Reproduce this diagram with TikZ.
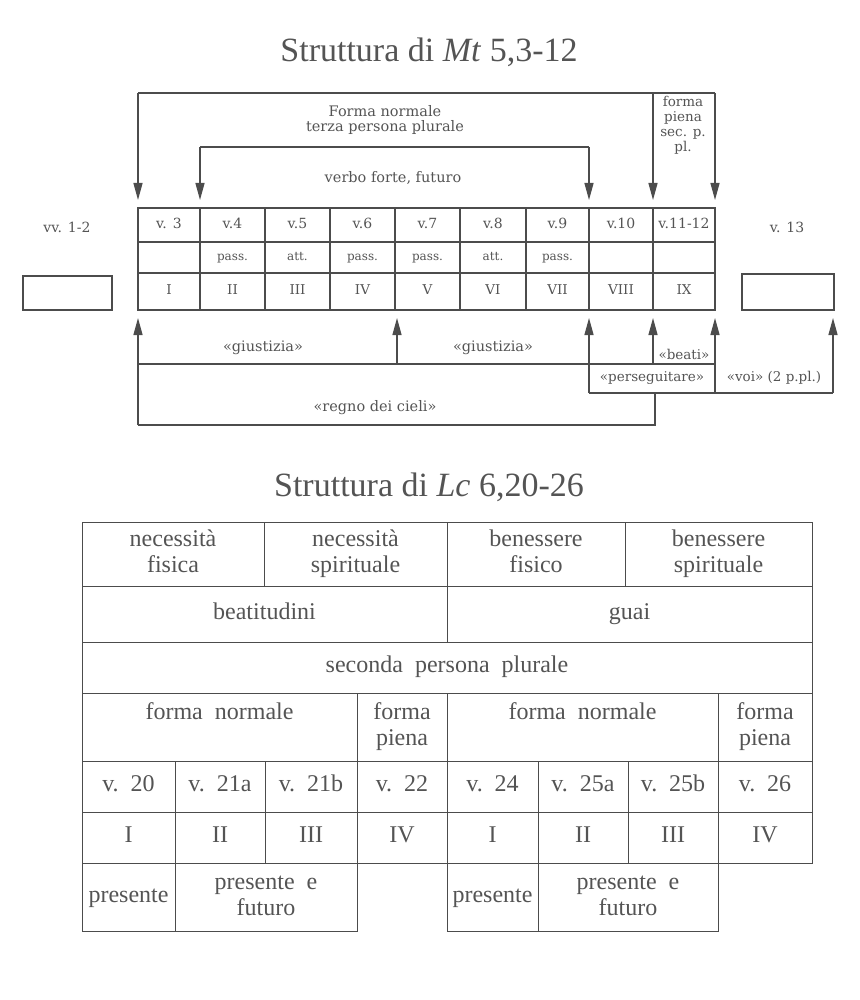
\documentclass[tikz,border=0pt]{standalone}
\usepackage{fontspec}
\setmainfont{Liberation Serif}
\newfontfamily\upfont{DejaVu Serif}
\usetikzlibrary{arrows.meta}
\definecolor{ink}{gray}{0.30}
\definecolor{txt}{gray}{0.33}
\newcommand\fsz[2]{\fontsize{#1}{#2}\selectfont}
\newcommand\cell[7][]{\node[cellbox,#1,minimum width={#5-#3},minimum height={#6-#4}] (#2) at ({(#3+#5)/2},{(#4+#6)/2}) {\strut #7\strut};}
\begin{document}
\begin{tikzpicture}[x=1pt,y=-1pt,
  cellbox/.style={draw=ink,line width=1.1pt,inner sep=0pt,outer sep=0pt,text=txt,align=center},
  rowa/.style={font=\upfont\fsz{14}{16}},
  rowb/.style={font=\upfont\fsz{12}{14}},
  rowc/.style={font=\upfont\fsz{13.5}{16}},
  low/.style={font=\fsz{24}{26},line width=0.9pt},
  ln/.style={draw=ink,line width=1.3pt},
  arr/.style={draw=ink,line width=1.3pt,-{Triangle[length=17pt,width=9pt]}},
  lbl/.style={text=txt,font=\upfont\fsz{14.5}{15},align=center,inner sep=0pt},
  ttl/.style={text=txt,font=\fsz{34}{36},inner sep=0pt}]
\useasboundingbox (0,0) rectangle (859,1000);

% ---------- titles
\node[ttl] (t1) at (429,52) {Struttura di \textit{Mt} 5,3-12};
\node[ttl] (t2) at (429,487) {Struttura di \textit{Lc} 6,20-26};

% ---------- upper table
\cell[rowa]{a1}{138}{208}{200}{242}{v. 3}
\cell[rowa]{a2}{200}{208}{265}{242}{v.4}
\cell[rowa]{a3}{265}{208}{330}{242}{v.5}
\cell[rowa]{a4}{330}{208}{395}{242}{v.6}
\cell[rowa]{a5}{395}{208}{460}{242}{v.7}
\cell[rowa]{a6}{460}{208}{526}{242}{v.8}
\cell[rowa]{a7}{526}{208}{589}{242}{v.9}
\cell[rowa]{a8}{589}{208}{653}{242}{v.10}
\cell[rowa]{a9}{653}{208}{715}{242}{v.11-12}
\cell[rowb]{b1}{138}{242}{200}{273}{}
\cell[rowb]{b2}{200}{242}{265}{273}{pass.}
\cell[rowb]{b3}{265}{242}{330}{273}{att.}
\cell[rowb]{b4}{330}{242}{395}{273}{pass.}
\cell[rowb]{b5}{395}{242}{460}{273}{pass.}
\cell[rowb]{b6}{460}{242}{526}{273}{att.}
\cell[rowb]{b7}{526}{242}{589}{273}{pass.}
\cell[rowb]{b8}{589}{242}{653}{273}{}
\cell[rowb]{b9}{653}{242}{715}{273}{}
\cell[rowc]{c1}{138}{273}{200}{310}{I}
\cell[rowc]{c2}{200}{273}{265}{310}{II}
\cell[rowc]{c3}{265}{273}{330}{310}{III}
\cell[rowc]{c4}{330}{273}{395}{310}{IV}
\cell[rowc]{c5}{395}{273}{460}{310}{V}
\cell[rowc]{c6}{460}{273}{526}{310}{VI}
\cell[rowc]{c7}{526}{273}{589}{310}{VII}
\cell[rowc]{c8}{589}{273}{653}{310}{VIII}
\cell[rowc]{c9}{653}{273}{715}{310}{IX}
\cell{boxL}{23}{276}{112}{310}{}
\cell{boxR}{742}{274}{834}{310}{}
\node[lbl,font=\upfont\fsz{14}{16}] (vv12) at (67,227) {vv. 1-2};
\node[lbl,font=\upfont\fsz{14}{16}] (v13) at (787,227) {v. 13};

% ---------- upper brackets
\coordinate (oL) at (138,93);
\coordinate (oM) at (653,93);
\coordinate (oR) at (715,93);
\coordinate (iL) at (200,147);
\coordinate (iR) at (589,147);
\coordinate (dA) at (138,200);
\coordinate (dB) at (200,200);
\coordinate (dG) at (589,200);
\coordinate (dH) at (653,200);
\coordinate (dI) at (715,200);
\draw[ln] (oL) -- (oR);
\draw[arr] (oL) -- (dA);
\draw[arr] (oM) -- (dH);
\draw[arr] (oR) -- (dI);
\draw[ln] (iL) -- (iR);
\draw[arr] (iL) -- (dB);
\draw[arr] (iR) -- (dG);
\node[lbl] (fn) at (385,120) {Forma normale\\terza persona plurale};
\node[lbl] (vf) at (393,178) {verbo forte, futuro};
\node[lbl,font=\upfont\fsz{13.5}{15}] (fp) at (683,125) {forma\\piena\\sec. p.\\pl.};

% ---------- lower brackets
\coordinate (uA) at (138,318);
\coordinate (uD) at (397,318);
\coordinate (uG) at (589,318);
\coordinate (uH) at (653,318);
\coordinate (uI) at (715,318);
\coordinate (uR) at (833,318);
\coordinate (gL) at (138,364);
\coordinate (gD) at (397,364);
\coordinate (gH) at (653,364);
\coordinate (gR) at (715,364);
\coordinate (pL) at (589,393);
\coordinate (pM) at (655,393);
\coordinate (pI) at (715,393);
\coordinate (pR) at (833,393);
\coordinate (rL) at (138,425);
\coordinate (rR) at (655,425);
\draw[ln] (gL) -- (gR);
\draw[ln] (pL) -- (pR);
\draw[ln] (rL) -- (rR) -- (pM);
\draw[arr] (rL) -- (uA);
\draw[arr] (gD) -- (uD);
\draw[arr] (gH) -- (uH);
\draw[arr] (pL) -- (uG);
\draw[arr] (pI) -- (uI);
\draw[arr] (pR) -- (uR);
\node[lbl] (g1) at (263,348) {«giustizia»};
\node[lbl] (g2) at (493,348) {«giustizia»};
\node[lbl,font=\upfont\fsz{13.5}{15}] (be) at (684,354) {«beati»};
\node[lbl,font=\upfont\fsz{13.5}{15}] (pe) at (652,378) {«perseguitare»};
\node[lbl,font=\upfont\fsz{13.5}{15}] (vo) at (774,378) {«voi» (2 p.pl.)};
\node[lbl] (re) at (375,408) {«regno dei cieli»};

% ---------- lower table
\cell[low]{A1}{82}{522}{264}{586}{necessità\\fisica}
\cell[low]{A2}{264}{522}{447}{586}{necessità\\spirituale}
\cell[low]{A3}{447}{522}{625}{586}{benessere\\fisico}
\cell[low]{A4}{625}{522}{812}{586}{benessere\\spirituale}
\cell[low]{B1}{82}{586}{447}{642}{beatitudini}
\cell[low]{B2}{447}{586}{812}{642}{guai}
\cell[low]{C1}{82}{642}{812}{693}{seconda\enspace persona\enspace plurale}
\cell[low]{D1}{82}{693}{357}{761}{forma\enspace normale\\}
\cell[low]{D2}{357}{693}{447}{761}{forma\\piena}
\cell[low]{D3}{447}{693}{718}{761}{forma\enspace normale\\}
\cell[low]{D4}{718}{693}{812}{761}{forma\\piena}
\cell[low]{E1}{82}{761}{175}{812}{v.\enspace 20}
\cell[low]{E2}{175}{761}{265}{812}{v.\enspace 21a}
\cell[low]{E3}{265}{761}{357}{812}{v.\enspace 21b}
\cell[low]{E4}{357}{761}{447}{812}{v.\enspace 22}
\cell[low]{E5}{447}{761}{538}{812}{v.\enspace 24}
\cell[low]{E6}{538}{761}{628}{812}{v.\enspace 25a}
\cell[low]{E7}{628}{761}{718}{812}{v.\enspace 25b}
\cell[low]{E8}{718}{761}{812}{812}{v.\enspace 26}
\cell[low]{F1}{82}{812}{175}{863}{I}
\cell[low]{F2}{175}{812}{265}{863}{II}
\cell[low]{F3}{265}{812}{357}{863}{III}
\cell[low]{F4}{357}{812}{447}{863}{IV}
\cell[low]{F5}{447}{812}{538}{863}{I}
\cell[low]{F6}{538}{812}{628}{863}{II}
\cell[low]{F7}{628}{812}{718}{863}{III}
\cell[low]{F8}{718}{812}{812}{863}{IV}
\cell[low]{G1}{82}{863}{175}{931}{presente}
\cell[low]{G2}{175}{863}{357}{931}{presente\enspace e\\futuro}
\cell[low]{G3}{447}{863}{538}{931}{presente}
\cell[low]{G4}{538}{863}{718}{931}{presente\enspace e\\futuro}
\end{tikzpicture}
\end{document}
